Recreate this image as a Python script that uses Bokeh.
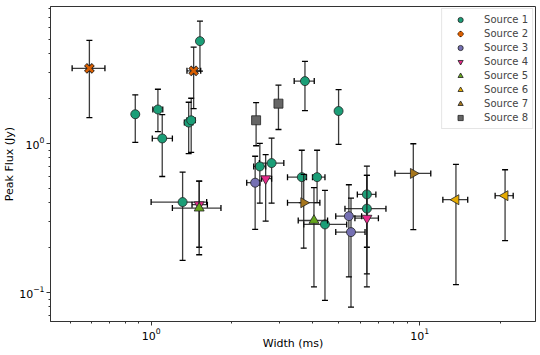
import math
from bokeh.plotting import figure
from bokeh.models import Range1d, FixedTicker, LogTickFormatter, Legend, LegendItem, ColumnDataSource
from bokeh.embed import file_html
from bokeh.resources import INLINE

# ---- data (width in ms, peak flux in Jy) ----
names = ["Source 1", "Source 2", "Source 3", "Source 4", "Source 5", "Source 6", "Source 7", "Source 8"]
colors = ["#1b9e77", "#d95f02", "#7570b3", "#e7298a", "#66a61e", "#e6ab02", "#a6761d", "#666666"]
markers = ["circle", "x", "circle", "inverted_triangle", "triangle", "triangle", "triangle", "square"]
angles = [0, 0, 0, 0, 0, math.pi / 2, -math.pi / 2, 0]

s1_x = [0.873, 1.06, 1.10, 1.38, 1.41, 1.52, 1.31, 2.54, 2.81, 3.74, 4.99, 3.64, 4.15, 4.44, 6.36, 6.36]
s1_y = [1.57, 1.69, 1.08, 1.38, 1.43, 4.86, 0.404, 0.701, 0.738, 2.62, 1.65, 0.594, 0.594, 0.286, 0.455, 0.365]
s1_xlo = [0.86, 1.015, 1.01, 1.33, 1.36, 1.50, 1.00, 2.41, 2.53, 3.41, 4.93, 3.22, 3.99, 3.70, 5.86, 5.27]
s1_xhi = [0.886, 1.105, 1.20, 1.43, 1.46, 1.54, 1.61, 2.67, 3.12, 4.05, 5.05, 3.79, 4.44, 5.35, 6.87, 7.49]
s1_ylo = [1.015, 1.20, 0.60, 0.853, 0.87, 3.06, 0.164, 0.397, 0.397, 1.66, 0.985, 0.40, 0.40, 0.0884, 0.201, 0.133]
s1_yhi = [2.12, 2.31, 1.56, 1.89, 2.01, 6.62, 0.642, 1.00, 1.085, 3.55, 2.30, 0.90, 0.90, 0.484, 0.704, 0.61]

s2_x = [0.589, 1.44]
s2_y = [3.19, 3.07]
s2_xlo = [0.508, 1.36]
s2_xhi = [0.673, 1.53]
s2_ylo = [1.49, 1.71]
s2_yhi = [4.91, 4.43]

s3_x = [2.44, 5.45, 5.55]
s3_y = [0.545, 0.325, 0.254]
s3_xlo = [2.27, 4.87, 4.87]
s3_xhi = [2.54, 6.08, 6.26]
s3_ylo = [0.265, 0.127, 0.0797]
s3_yhi = [0.82, 0.528, 0.43]

s4_x = [1.51, 2.67, 6.36]
s4_y = [0.388, 0.580, 0.315]
s4_xlo = [1.42, 2.58, 5.74]
s4_xhi = [1.62, 2.81, 7.02]
s4_ylo = [0.201, 0.301, 0.109]
s4_yhi = [0.558, 0.84, 0.61]

s5_x = [1.51, 4.04]
s5_y = [0.368, 0.304]
s5_xlo = [1.20, 3.53]
s5_xhi = [1.82, 4.54]
s5_ylo = [0.179, 0.109]
s5_yhi = [0.558, 0.505]

s6_x = [13.65, 20.8]
s6_y = [0.419, 0.446]
s6_xlo = [12.2, 19.1]
s6_xhi = [15.1, 22.3]
s6_ylo = [0.1127, 0.223]
s6_yhi = [0.723, 0.666]

s7_x = [9.47, 3.70]
s7_y = [0.629, 0.400]
s7_xlo = [8.09, 3.22]
s7_xhi = [11.0, 4.25]
s7_ylo = [0.264, 0.198]
s7_yhi = [0.995, 0.62]

s8_x = [2.46, 2.98]
s8_y = [1.43, 1.85]
s8_xlo = [2.41, 2.93]
s8_xhi = [2.51, 3.03]
s8_ylo = [0.965, 1.24]
s8_yhi = [1.88, 2.46]

x_ticks = [1, 10]
y_ticks = [0.1, 1]

sources = [
    (s1_x, s1_y, s1_xlo, s1_xhi, s1_ylo, s1_yhi),
    (s2_x, s2_y, s2_xlo, s2_xhi, s2_ylo, s2_yhi),
    (s3_x, s3_y, s3_xlo, s3_xhi, s3_ylo, s3_yhi),
    (s4_x, s4_y, s4_xlo, s4_xhi, s4_ylo, s4_yhi),
    (s5_x, s5_y, s5_xlo, s5_xhi, s5_ylo, s5_yhi),
    (s6_x, s6_y, s6_xlo, s6_xhi, s6_ylo, s6_yhi),
    (s7_x, s7_y, s7_xlo, s7_xhi, s7_ylo, s7_yhi),
    (s8_x, s8_y, s8_xlo, s8_xhi, s8_ylo, s8_yhi),
]

p = figure(frame_width=485, frame_height=315, x_axis_type="log", y_axis_type="log",
           x_range=Range1d(0.422, 27.0), y_range=Range1d(0.0638, 8.3),
           output_backend="svg", toolbar_location=None,
           min_border_top=6, min_border_right=6, min_border_left=49, min_border_bottom=20)

p.xgrid.visible = False
p.ygrid.visible = False
p.outline_line_color = "#333333"
p.outline_line_width = 1

minor_x = [0.5, 0.6, 0.7, 0.8, 0.9, 2, 3, 4, 5, 6, 7, 8, 9, 20]
minor_y = [0.07, 0.08, 0.09, 0.2, 0.3, 0.4, 0.5, 0.6, 0.7, 0.8, 0.9, 2, 3, 4, 5, 6, 7, 8]
p.xaxis.ticker = FixedTicker(ticks=x_ticks, minor_ticks=minor_x)
p.yaxis.ticker = FixedTicker(ticks=y_ticks, minor_ticks=minor_y)
p.xaxis.formatter = LogTickFormatter()
p.yaxis.formatter = LogTickFormatter()

for ax in (p.xaxis[0], p.yaxis[0]):
    ax.axis_line_color = "#333333"
    ax.major_tick_line_color = "#333333"
    ax.minor_tick_line_color = "#333333"
    ax.major_tick_in = 0
    ax.major_tick_out = 4
    ax.minor_tick_in = 0
    ax.minor_tick_out = 2
    ax.major_label_text_font = "DejaVu Sans"
    ax.major_label_text_font_size = "11px"
    ax.major_label_text_color = "black"
    ax.axis_label_text_font = "DejaVu Sans"
    ax.axis_label_text_font_size = "11px"
    ax.axis_label_text_font_style = "normal"
    ax.axis_label_text_color = "black"
    ax.major_label_standoff = 2
    ax.axis_label_standoff = 0

p.xaxis.axis_label_standoff = -6
p.xaxis.axis_label = "Width (ms)"
p.yaxis.axis_label = "Peak Flux (Jy)"

err_color = "#1a1a1a"
items = []
for i, (xs, ys, xlo, xhi, ylo, yhi) in enumerate(sources):
    src = ColumnDataSource(dict(x=xs, y=ys, xlo=xlo, xhi=xhi, ylo=ylo, yhi=yhi))
    p.segment(x0="x", y0="ylo", x1="x", y1="yhi", source=src,
              line_color=err_color, line_width=1.3, line_alpha=0.85)
    p.segment(x0="xlo", y0="y", x1="xhi", y1="y", source=src,
              line_color=err_color, line_width=1.3, line_alpha=0.85)
    p.scatter(x="x", y="ylo", source=src, marker="dash", size=6, line_color="black", line_width=1.3)
    p.scatter(x="x", y="yhi", source=src, marker="dash", size=6, line_color="black", line_width=1.3)
    p.scatter(x="xlo", y="y", source=src, marker="dash", size=6, angle=math.pi / 2,
              line_color="black", line_width=1.3)
    p.scatter(x="xhi", y="y", source=src, marker="dash", size=6, angle=math.pi / 2,
              line_color="black", line_width=1.3)
    if markers[i] == "x":
        r1 = p.scatter(x="x", y="y", source=src, marker="x", size=11, line_color="#222222", line_width=4.2)
        r2 = p.scatter(x="x", y="y", source=src, marker="x", size=10, line_color=colors[i], line_width=2.6)
        rends = [r1, r2]
    else:
        size = 9 if markers[i] in ("circle", "square") else 10
        r = p.scatter(x="x", y="y", source=src, marker=markers[i], size=size, angle=angles[i],
                      fill_color=colors[i], line_color="#222222", line_width=0.8)
        rends = [r]
    items.append(LegendItem(label=names[i], renderers=rends))

legend = Legend(items=items, location="top_right")
legend.label_text_font = "DejaVu Sans"
legend.label_text_font_size = "10px"
legend.label_height = 13
legend.glyph_height = 13
legend.glyph_width = 28
legend.spacing = 1
legend.padding = 4
legend.margin = 2
legend.label_standoff = 10
legend.border_line_color = "#cccccc"
legend.background_fill_alpha = 0.85
p.add_layout(legend)

open("out.html", "w").write(file_html(p, INLINE))
